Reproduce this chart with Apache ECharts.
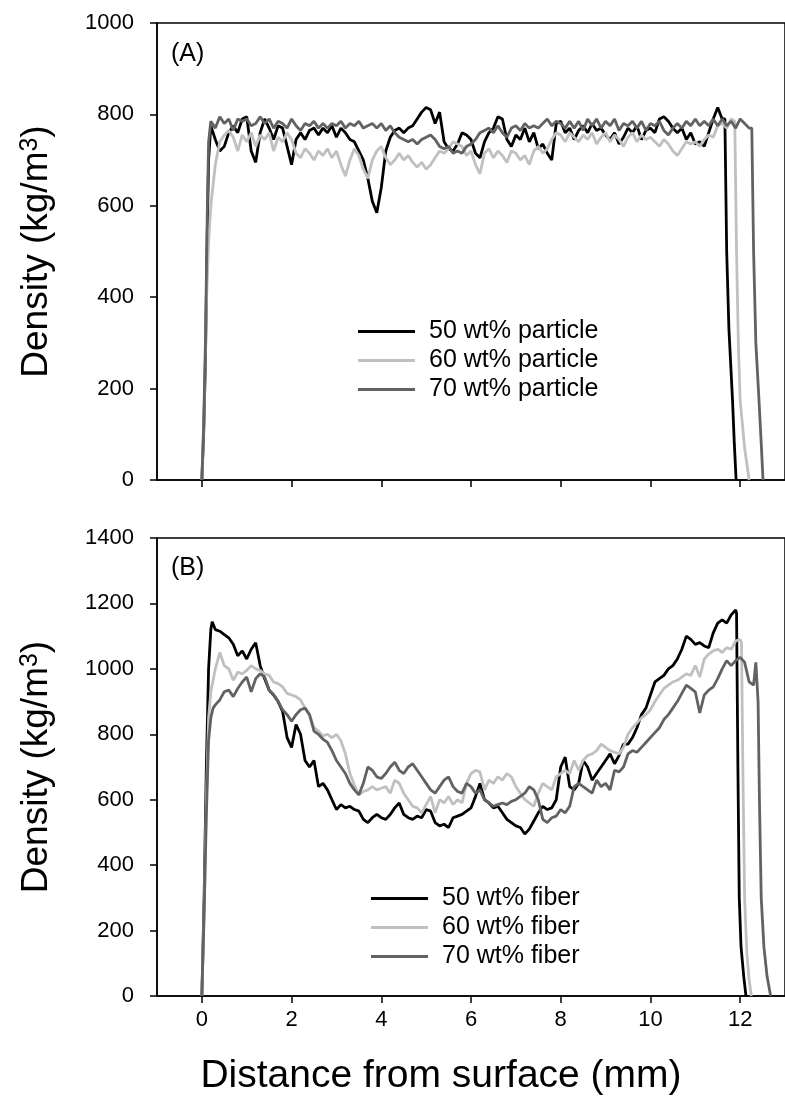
<!DOCTYPE html>
<html><head><meta charset="utf-8">
<script src="https://cdn.jsdelivr.net/npm/echarts@6/dist/echarts.min.js"></script>
<style>html,body{margin:0;padding:0;background:#fff}#c{width:785px;height:1101px}</style>
</head><body><div id="c"></div>
<script>
// ---------- tick labels ----------
const xTickValues = [0, 2, 4, 6, 8, 10, 12];
const yTicksA = [0, 200, 400, 600, 800, 1000];
const yTicksB = [0, 200, 400, 600, 800, 1000, 1200, 1400];
const namesA = ['50 wt% particle', '60 wt% particle', '70 wt% particle'];
const namesB = ['50 wt% fiber', '60 wt% fiber', '70 wt% fiber'];
const step = 0.1;

// ---------- (A) particle ----------
const a50Rise = [[0,0],[0.04,100],[0.08,260],[0.12,540],[0.15,700]];
const a50Start = 0.2;
const a50Body = [775,745,720,730,760,775,760,790,795,720,695,760,790,770,745,775,770,730,690,745,
  760,745,765,770,755,770,760,775,750,770,760,745,740,720,700,660,610,585,640,720,
  750,765,770,760,770,775,790,805,815,810,780,805,740,725,720,735,760,755,745,715,
  705,740,760,770,795,790,745,730,755,745,770,740,760,725,735,715,700,780,785,760,
  770,745,765,775,760,780,765,770,755,745,760,735,750,770,760,775,745,765,770,760,
  790,795,785,770,760,770,745,760,735,740,730,760,790,815,790];
const a50Drop = [[11.66,790],[11.7,500],[11.75,330],[11.83,175],[11.87,80],[11.91,0]];

const a60Rise = [[0,0],[0.05,150],[0.1,380],[0.15,520]];
const a60Start = 0.2;
const a60Body = [600,690,740,755,765,750,720,755,740,760,730,755,745,760,720,750,740,760,745,715,
  705,725,715,700,720,710,725,705,720,690,665,700,725,710,680,660,700,720,730,705,
  690,700,715,700,710,695,685,695,680,690,705,720,715,725,740,735,730,710,720,690,
  670,715,725,705,720,710,695,720,715,700,710,690,720,730,715,725,745,760,755,740,
  760,750,740,755,745,760,735,750,760,740,755,745,730,750,760,740,755,745,750,740,
  730,745,735,720,710,725,740,735,740,730,745,755,750,775,780,770,790];
const a60Drop = [[11.88,785],[11.92,500],[11.96,300],[12.0,175],[12.1,70],[12.2,0]];

const a70Rise = [[0,0],[0.04,120],[0.08,300],[0.12,580],[0.15,740]];
const a70Start = 0.2;
const a70Body = [785,770,795,780,790,765,790,785,790,775,780,795,780,790,770,785,780,770,790,775,
  765,780,775,785,770,780,770,780,775,785,770,780,775,785,770,775,780,770,780,765,
  775,760,750,745,740,745,735,745,750,755,745,730,725,730,715,720,715,730,735,745,
  760,765,770,760,775,760,750,770,775,765,780,770,775,770,780,790,775,785,780,770,
  785,770,785,765,790,775,790,770,785,775,790,765,780,775,785,770,785,765,780,775,
  785,765,755,770,780,770,785,775,790,775,785,775,790,775,790,775,785,770,790,780,770];
const a70Drop = [[12.26,770],[12.3,500],[12.35,300],[12.42,175],[12.47,80],[12.51,0]];

// ---------- (B) fiber ----------
const b50Rise = [[0,0],[0.05,300],[0.1,700],[0.15,1000],[0.2,1120],[0.23,1144]];
const b50Start = 0.3;
const b50Body = [1120,1115,1105,1095,1075,1040,1055,1030,1060,1080,1010,970,935,920,900,870,790,760,830,800,
  720,700,720,640,650,630,600,570,585,575,580,570,565,540,530,545,555,545,540,555,
  575,590,555,545,540,550,545,570,565,530,520,525,515,545,550,555,565,575,610,650,
  600,590,575,580,560,540,530,520,515,495,510,535,560,580,570,575,600,700,730,640,
  630,650,720,700,660,680,700,720,740,710,735,770,770,790,820,860,880,920,960,970,
  980,1000,1010,1030,1060,1100,1090,1075,1080,1070,1065,1110,1140,1150,1140,1165,1180];
const b50Drop = [[11.92,1170],[11.95,700],[11.98,300],[12.02,150],[12.08,60],[12.13,0]];

const b60Rise = [[0,0],[0.05,250],[0.1,600],[0.15,850],[0.2,930]];
const b60Start = 0.3;
const b60Body = [1000,1050,1010,1000,965,990,985,995,1010,1000,995,985,980,960,955,945,925,920,915,905,
  880,860,820,810,795,800,790,800,780,740,680,645,615,625,630,640,630,635,640,620,
  660,650,620,600,580,575,560,585,610,560,600,590,610,585,600,590,650,680,690,685,
  630,660,650,670,660,680,670,640,620,600,590,580,620,650,640,630,670,680,690,680,
  720,690,720,735,740,750,770,760,750,745,740,760,800,820,835,850,860,875,900,920,
  940,950,960,965,975,985,980,1010,975,1030,1045,1055,1060,1050,1065,1060,1085,1090];
const b60Drop = [[12.03,1080],[12.06,700],[12.1,300],[12.15,130],[12.2,50],[12.25,0]];

const b70Rise = [[0,0],[0.05,250],[0.1,550],[0.15,780],[0.2,850],[0.25,880]];
const b70Start = 0.3;
const b70Body = [890,905,930,935,915,940,960,975,930,970,985,975,935,920,900,875,860,840,860,875,
  880,860,810,800,785,775,750,720,700,680,650,630,615,650,700,690,670,665,680,700,
  715,690,680,700,710,690,670,650,630,620,640,660,670,640,625,620,650,640,620,630,
  600,590,580,585,590,585,595,600,610,620,640,630,600,540,530,545,550,570,560,580,
  640,650,640,630,620,660,640,650,630,690,685,700,740,750,745,760,775,790,805,820,
  845,860,880,900,925,950,940,930,865,920,935,945,970,1000,1025,1010,1025,1035,1020,960,950];
const b70Tail = [[12.35,1020],[12.38,1015]];
const b70Drop = [[12.4,900],[12.43,600],[12.47,300],[12.53,150],[12.6,60],[12.68,0]];

function build(rise, start, body, drop) {
  const pts = rise.slice();
  body.forEach((v, i) => pts.push([+(start + i * step).toFixed(2), v]));
  return pts.concat(drop);
}

const colors = ['#000000', '#c0c0c0', '#626262'];
const FONT = '"Liberation Sans", Arial, sans-serif';

const chart = echarts.init(document.getElementById('c'), null, {renderer: 'canvas'});

function xAxisCfg(gridIndex, showLabels) {
  return {
    type: 'value', gridIndex, min: -1, max: 13,
    axisLine: {show: true, onZero: false, lineStyle: {color: '#000', width: 1.5}},
    axisTick: {show: true, customValues: xTickValues, length: 7, inside: false, lineStyle: {color: '#000', width: 1.5}},
    axisLabel: {show: showLabels, customValues: xTickValues, fontSize: 22, color: '#000', margin: 13, fontFamily: FONT},
    splitLine: {show: false},
    name: showLabels ? 'Distance from surface (mm)' : '',
    nameLocation: 'middle', nameGap: 61,
    nameTextStyle: {fontSize: 39, color: '#000', fontFamily: FONT, padding: [0, 60, 0, 0]}
  };
}
function yAxisCfg(gridIndex, max) {
  return {
    type: 'value', gridIndex, min: 0, max, interval: 200,
    axisLine: {show: true, onZero: false, lineStyle: {color: '#000', width: 1.5}},
    axisTick: {show: true, length: 7, inside: false, lineStyle: {color: '#000', width: 1.5}},
    axisLabel: {fontSize: 22, color: '#000', margin: 23, fontFamily: FONT, formatter: v => String(v)},
    splitLine: {show: false},
    name: 'Density (kg/m{sup|3})',
    nameLocation: 'middle', nameGap: 102, nameRotate: 90,
    nameTextStyle: {fontSize: 37, color: '#000', fontFamily: FONT,
      rich: {sup: {fontSize: 25, fontFamily: FONT, color: '#000', verticalAlign: 'top', padding: [0, 0, 12, 0]}}}
  };
}
function lineSeries(name, data, xi, yi, c) {
  return {type: 'line', name, data, xAxisIndex: xi, yAxisIndex: yi, symbol: 'none', showSymbol: false,
    lineStyle: {color: c, width: 2.8}, itemStyle: {color: c}, animation: false, z: 2};
}
function legendCfg(data, left, top) {
  return {data, orient: 'vertical', left, top, icon: 'rect', itemWidth: 57, itemHeight: 3, itemGap: 4,
    textStyle: {fontSize: 25, color: '#000', fontFamily: FONT, padding: [0, 0, 0, 9]}};
}

const option = {
  backgroundColor: '#fff',
  animation: false,
  textStyle: {fontFamily: FONT},
  grid: [
    {left: 157, top: 23, width: 635, height: 457, show: true, borderColor: '#000', borderWidth: 1.5, containLabel: false},
    {left: 157, top: 538, width: 635, height: 458, show: true, borderColor: '#000', borderWidth: 1.5, containLabel: false}
  ],
  xAxis: [xAxisCfg(0, false), xAxisCfg(1, true)],
  yAxis: [yAxisCfg(0, 1000), yAxisCfg(1, 1400)],
  legend: [legendCfg(namesA, 353, 314), legendCfg(namesB, 366, 881)],
  graphic: [
    {type: 'text', left: 171, top: 42, style: {text: '(A)', fill: '#000', font: '25px ' + FONT}},
    {type: 'text', left: 171, top: 556, style: {text: '(B)', fill: '#000', font: '25px ' + FONT}}
  ],
  series: [
    lineSeries(namesA[0], build(a50Rise, a50Start, a50Body, a50Drop), 0, 0, colors[0]),
    lineSeries(namesA[1], build(a60Rise, a60Start, a60Body, a60Drop), 0, 0, colors[1]),
    lineSeries(namesA[2], build(a70Rise, a70Start, a70Body, a70Drop), 0, 0, colors[2]),
    lineSeries(namesB[0], build(b50Rise, b50Start, b50Body, b50Drop), 1, 1, colors[0]),
    lineSeries(namesB[1], build(b60Rise, b60Start, b60Body, b60Drop), 1, 1, colors[1]),
    lineSeries(namesB[2], build(b70Rise, b70Start, b70Body, b70Tail.concat(b70Drop)), 1, 1, colors[2])
  ]
};
chart.setOption(option);
</script></body></html>
